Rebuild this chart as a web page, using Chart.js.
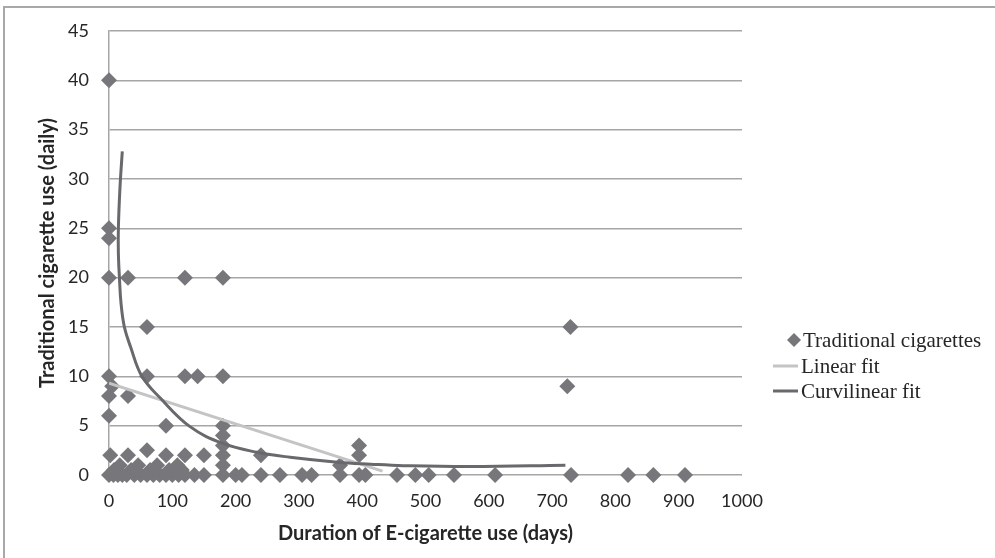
<!DOCTYPE html>
<html>
<head>
<meta charset="utf-8">
<script src="https://cdn.jsdelivr.net/npm/chart.js@4.4.0/dist/chart.umd.min.js"></script>
<style>
  html, body { margin: 0; padding: 0; background: #fff; }
  #wrap { width: 995px; height: 558px; position: relative; }
</style>
</head>
<body>
<div id="wrap"><canvas id="chart" width="995" height="558"></canvas></div>
<script>
// survey points: duration of e-cig use (days) vs traditional cigarettes per day
const daysUsed = [
  0, 0, 0, 0, 30, 120, 180, 60, 729, 0, 60, 120, 140, 180, 5, 724, 0, 30, 0,
  90, 180, 180, 180, 395, 60, 2, 30, 90, 120, 150, 180, 240, 395,
  17, 46, 76, 108, 180, 365,
  8, 35, 65, 95, 115,
  0, 7, 14, 21, 28, 40, 50, 60, 70, 80, 90, 100, 110, 120, 135, 150, 180, 200, 210,
  240, 270, 305, 320, 365, 395, 405, 455, 484, 505, 545, 610, 730, 820, 860, 910
];
const cigsPerDay = [
  40, 25, 24, 20, 20, 20, 20, 15, 15, 10, 10, 10, 10, 10, 9, 9, 8, 8, 6,
  5, 5, 4, 3, 3, 2.5, 2, 2, 2, 2, 2, 2, 2, 2,
  1, 1, 1, 1, 1, 1,
  0.5, 0.5, 0.5, 0.5, 0.5,
  0, 0, 0, 0, 0, 0, 0, 0, 0, 0, 0, 0, 0, 0, 0, 0, 0, 0, 0,
  0, 0, 0, 0, 0, 0, 0, 0, 0, 0, 0, 0, 0, 0, 0, 0
];

// fit lines
const linearX = [0, 432];
const linearY = [9.3, 0.4];
const curveX = [21, 17.4, 14.8, 14.8, 16.4, 19, 24.3, 34, 52, 81, 128, 180, 234, 286, 361, 413, 465, 571, 721];
const curveY = [32.8, 29.2, 25.0, 22.5, 20.1, 17.4, 15.0, 13, 10, 7.8, 4.9, 3.2, 2.3, 1.8, 1.3, 1.1, 0.95, 0.85, 1.0];

const xTicks = [0, 100, 200, 300, 400, 500, 600, 700, 800, 900, 1000];
const yTicks = [0, 5, 10, 15, 20, 25, 30, 35, 40, 45];

const seriesNames = ['Traditional cigarettes', 'Linear fit', 'Curvilinear fit'];

const zip = (xs, ys) => xs.map((x, i) => ({ x: x, y: ys[i] }));

const tickFont = { family: 'Lato, "Open Sans", sans-serif', size: 18 };
const titleFont = { family: 'Lato, "Open Sans", sans-serif', size: 20, weight: 'bold' };

// outer frame like the exported figure
const framePlugin = {
  id: 'frame',
  beforeDraw(chart) {
    const ctx = chart.ctx;
    ctx.save();
    ctx.strokeStyle = '#a8a8a8';
    ctx.lineWidth = 2;
    ctx.strokeRect(4, 7, 1000, 560);
    ctx.restore();
  }
};

// legend drawn by hand so it can sit where the original one is
const sideLegend = {
  id: 'sideLegend',
  afterDraw(chart) {
    const ctx = chart.ctx;
    const rows = [340, 366, 391];
    ctx.save();
    ctx.font = '21px "Liberation Serif", "DejaVu Serif", serif';
    ctx.textBaseline = 'middle';
    ctx.fillStyle = '#262626';
    chart.data.datasets.forEach((ds, i) => {
      const y = rows[i];
      if (i === 0) {
        ctx.beginPath();
        ctx.moveTo(794, y - 7);
        ctx.lineTo(801, y);
        ctx.lineTo(794, y + 7);
        ctx.lineTo(787, y);
        ctx.closePath();
        ctx.fillStyle = ds.backgroundColor;
        ctx.fill();
        ctx.fillStyle = '#262626';
        ctx.fillText(ds.label, 803, y + 1);
      } else {
        ctx.beginPath();
        ctx.moveTo(773, y);
        ctx.lineTo(798, y);
        ctx.strokeStyle = ds.borderColor;
        ctx.lineWidth = 3;
        ctx.stroke();
        ctx.fillText(ds.label, 801, y + 1);
      }
    });
    ctx.restore();
  }
};

new Chart(document.getElementById('chart'), {
  type: 'scatter',
  data: {
    datasets: [
      {
        label: seriesNames[0],
        data: zip(daysUsed, cigsPerDay),
        pointStyle: 'rectRot',
        pointRadius: 8,
        backgroundColor: '#77777b',
        borderColor: '#77777b',
        borderWidth: 0,
        clip: false,
        order: 3
      },
      {
        label: seriesNames[1],
        data: zip(linearX, linearY),
        showLine: true,
        pointRadius: 0,
        borderColor: '#c4c4c4',
        borderWidth: 3,
        order: 2
      },
      {
        label: seriesNames[2],
        data: zip(curveX, curveY),
        showLine: true,
        pointRadius: 0,
        borderColor: '#69696d',
        borderWidth: 3,
        tension: 0.4,
        order: 1
      }
    ]
  },
  options: {
    responsive: false,
    animation: false,
    layout: { padding: { left: 0, top: 31, right: 253, bottom: 0 } },
    plugins: {
      legend: { display: false },
      tooltip: { enabled: false }
    },
    scales: {
      x: {
        type: 'linear',
        min: 0,
        max: 1000,
        afterBuildTicks: (scale) => { scale.ticks = xTicks.map(v => ({ value: v })); },
        afterFit: (scale) => { scale.height = 83; },
        grid: { display: false, drawTicks: false },
        border: { display: false },
        ticks: {
          padding: 15,
          color: '#262626',
          font: tickFont,
          callback: (v) => String(v)
        },
        title: {
          display: true,
          text: 'Duration of E-cigarette use (days)',
          color: '#262626',
          font: titleFont,
          padding: { top: 0, bottom: 12 }
        }
      },
      y: {
        type: 'linear',
        min: 0,
        max: 45,
        afterBuildTicks: (scale) => { scale.ticks = yTicks.map(v => ({ value: v })); },
        afterFit: (scale) => { scale.width = 109; },
        grid: { color: '#a6a6a6', lineWidth: 1.5, drawTicks: false },
        border: { display: true, color: '#a6a6a6', width: 1.5 },
        ticks: {
          padding: 20,
          color: '#262626',
          font: tickFont,
          callback: (v) => String(v)
        },
        title: {
          display: true,
          text: 'Traditional cigarette use (daily)',
          color: '#262626',
          font: titleFont,
          padding: { top: 36, bottom: 0 }
        }
      }
    }
  },
  plugins: [framePlugin, sideLegend]
});
</script>
</body>
</html>
